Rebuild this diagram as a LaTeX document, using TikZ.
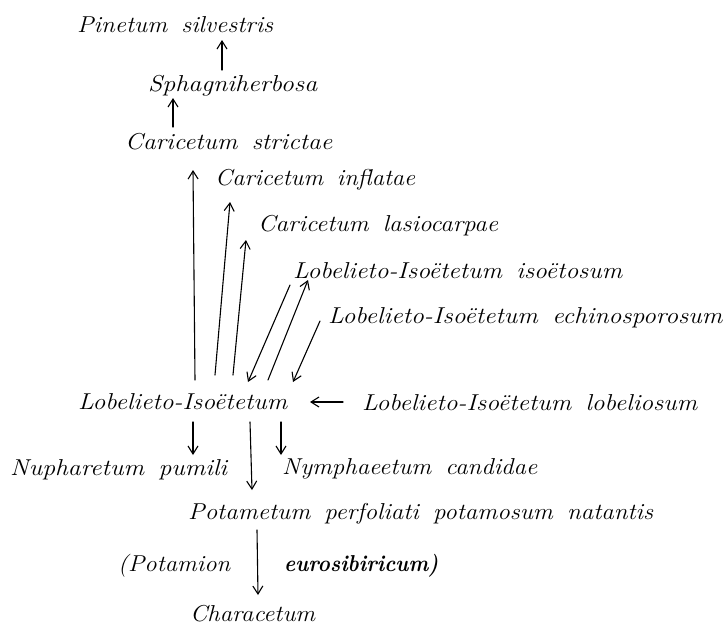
\documentclass[tikz,border=0pt]{standalone}
\usepackage{graphicx}
\usetikzlibrary{arrows.meta}
\newcommand\fitto[2]{\resizebox{#1pt}{\height}{#2}}
\newcommand\lblfont{\fontsize{23}{27}\selectfont\itshape\spaceskip=13pt\relax}
\tikzset{
  lbl/.style={inner sep=0pt, anchor=base west, font=\lblfont},
  arr/.style={-{Straight Barb[length=8pt,width=10pt,line width=1.1pt]}, line width=1.1pt, line cap=round}
}
\begin{document}
\begin{tikzpicture}[x=1pt,y=-1pt]
\useasboundingbox[fill=white] (0,0) rectangle (724,625);
% labels
\node[lbl] (pin) at (77,32) {\fitto{196}{Pinetum silvestris}};
\node[lbl] (sph) at (148,91) {\fitto{169}{Sphagniherbosa}};
\node[lbl] (cst) at (125,149) {\fitto{207}{Caricetum strictae}};
\node[lbl] (cin) at (215,185) {\fitto{200}{Caricetum inflatae}};
\node[lbl] (cla) at (258,231) {\fitto{240}{Caricetum lasiocarpae}};
\node[lbl] (iso) at (293,278) {\fitto{329}{Lobelieto-Isoëtetum isoëtosum}};
\node[lbl] (ech) at (328,323) {\fitto{394}{Lobelieto-Isoëtetum echinosporosum}};
\node[lbl] (main) at (78,409) {\fitto{209}{Lobelieto-Isoëtetum}};
\node[lbl] (lob) at (362,410) {\fitto{335}{Lobelieto-Isoëtetum lobeliosum}};
\node[lbl] (nup) at (10,475) {\fitto{217}{Nupharetum pumili}};
\node[lbl] (nym) at (282,474) {\fitto{255}{Nymphaeetum candidae}};
\node[lbl] (pot) at (188,519) {\fitto{465}{Potametum perfoliati potamosum natantis}};
\node[lbl] (pta) at (118,571) {\fitto{112}{(Potamion}};
\node[lbl] (eur) at (284,571) {\fitto{154}{\bfseries eurosibiricum)}};
\node[lbl] (cha) at (190,621) {\fitto{125}{Characetum}};
% connector ends
\coordinate (a1s) at (222,70);  \coordinate (a1e) at (222,40);
\coordinate (a2s) at (173,127); \coordinate (a2e) at (173,98);
\coordinate (a3s) at (195,380); \coordinate (a3e) at (193,170);
\coordinate (a4s) at (215,375); \coordinate (a4e) at (230,202);
\coordinate (a5s) at (233,375); \coordinate (a5e) at (246,240);
\coordinate (a6s) at (290,285); \coordinate (a6e) at (248,382);
\coordinate (a7s) at (268,380); \coordinate (a7e) at (308,280);
\coordinate (a8s) at (320,321); \coordinate (a8e) at (293,382);
\coordinate (a9s) at (343,402); \coordinate (a9e) at (310,402);
\coordinate (b1s) at (193,422); \coordinate (b1e) at (193,455);
\coordinate (b2s) at (250,422); \coordinate (b2e) at (252,490);
\coordinate (b3s) at (281,422); \coordinate (b3e) at (281,455);
\coordinate (b4s) at (257,530); \coordinate (b4e) at (258,595);
% connectors
\draw[arr] (a1s) -- (a1e);
\draw[arr] (a2s) -- (a2e);
\draw[arr] (a3s) -- (a3e);
\draw[arr] (a4s) -- (a4e);
\draw[arr] (a5s) -- (a5e);
\draw[arr] (a6s) -- (a6e);
\draw[arr] (a7s) -- (a7e);
\draw[arr] (a8s) -- (a8e);
\draw[arr] (a9s) -- (a9e);
\draw[arr] (b1s) -- (b1e);
\draw[arr] (b2s) -- (b2e);
\draw[arr] (b3s) -- (b3e);
\draw[arr] (b4s) -- (b4e);
\end{tikzpicture}
\end{document}
